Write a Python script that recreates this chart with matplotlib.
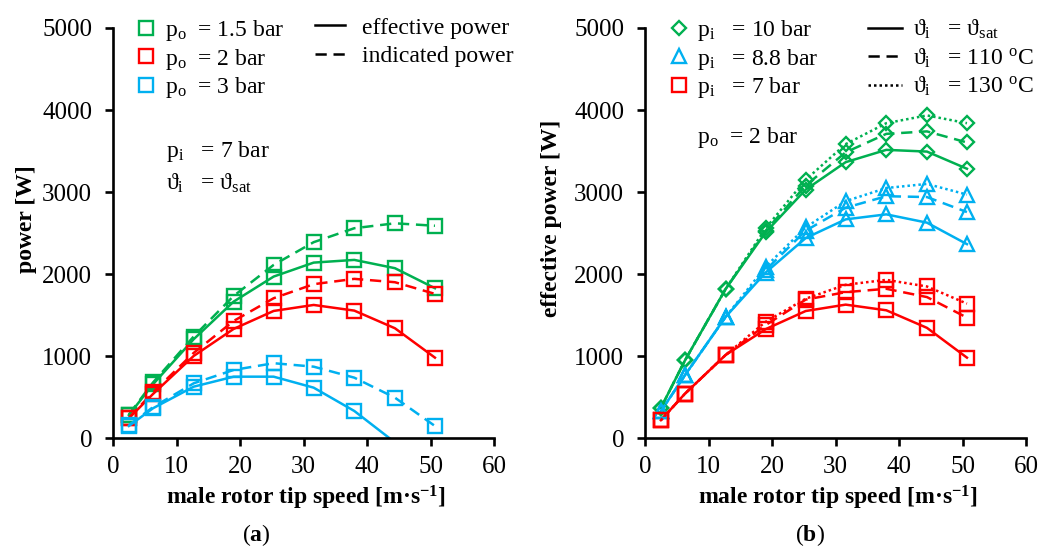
import matplotlib.pyplot as plt
from matplotlib.lines import Line2D

plt.rcParams['font.family'] = ['Liberation Serif', 'DejaVu Serif']
plt.rcParams['font.size'] = 17
plt.rcParams['mathtext.fontset'] = 'custom'
plt.rcParams['mathtext.rm'] = 'Liberation Serif'
plt.rcParams['mathtext.it'] = 'Liberation Serif:italic'
plt.rcParams['mathtext.bf'] = 'Liberation Serif:bold'

GREEN = '#00B050'
RED = '#FF0000'
CYAN = '#00B0F0'

# male rotor tip speed [m/s]
speed = [2.5, 6.3, 12.7, 19.0, 25.3, 31.6, 38.0, 44.4, 50.7]

# (a) p_i = 7 bar, saturated inlet, effective / indicated power [W]
eff_po15 = [284, 658, 1207, 1666, 1971, 2141, 2174, 2073, 1829]
ind_po15 = [290, 680, 1240, 1735, 2113, 2390, 2560, 2620, 2590]
eff_po2 = [244, 540, 1003, 1333, 1552, 1625, 1556, 1341, 983]
ind_po2 = [250, 560, 1040, 1430, 1707, 1878, 1943, 1902, 1760]
eff_po3 = [150, 366, 629, 751, 751, 617, 333, -50]
ind_po3 = [160, 380, 670, 833, 915, 873, 739, 495, 150]

# (b) p_o = 2 bar, effective power [W] for inlet temperature sat / 110 / 130 C
pi10_sat = [370, 950, 1820, 2510, 3030, 3365, 3515, 3494, 3285]
pi10_110 = [370, 950, 1820, 2530, 3080, 3485, 3710, 3740, 3605]
pi10_130 = [370, 950, 1820, 2560, 3150, 3585, 3840, 3935, 3840]
pi88_sat = [330, 770, 1480, 2020, 2440, 2668, 2729, 2628, 2366]
pi88_110 = [330, 770, 1480, 2050, 2530, 2810, 2950, 2940, 2757]
pi88_130 = [330, 770, 1480, 2090, 2570, 2890, 3050, 3100, 2970]
pi7_sat = [221, 544, 1016, 1330, 1551, 1629, 1560, 1346, 983]
pi7_110 = [221, 544, 1016, 1380, 1690, 1781, 1822, 1721, 1471]
pi7_130 = [221, 544, 1016, 1420, 1701, 1871, 1931, 1850, 1641]

LW = 1.8
MEW = 1.7
DASH = (0, (4.5, 2.7))
DOT = (0, (1, 1.2))
MS = {'s': 10, 'D': 7.2, '^': 10}


def fig_xy(x, y):
    return x / 1045, 1 - y / 549


def series(ax, y, color, marker, ls):
    n = len(y)
    keep = [i for i in range(n) if y[i] >= 0]
    ax.plot(speed[:n], y, color=color, ls=ls, lw=LW, marker=marker, ms=MS[marker],
            mfc='none', mew=MEW, markevery=keep)


def style_axes(ax, ylabel, ylabel_x):
    ax.set_xlim(0, 60)
    ax.set_ylim(0, 5000)
    ax.set_xticks(range(0, 61, 10))
    ax.set_yticks(range(0, 5001, 1000))
    for s in ('top', 'right'):
        ax.spines[s].set_visible(False)
    for s in ('left', 'bottom'):
        ax.spines[s].set_linewidth(1.9)
    ax.tick_params(direction='out', length=6, width=1.9, labelsize=18)
    ax.tick_params(axis='x', pad=7)
    ax.tick_params(axis='y', pad=9)
    ax.set_xlabel(r'male rotor tip speed [m·s$\mathbf{^{-1}}$]', fontweight='bold')
    ax.xaxis.set_label_coords(0.506, -0.11)
    ax.set_ylabel(ylabel, fontweight='bold')
    ax.yaxis.set_label_coords(ylabel_x, 0.535)


def marker_handle(color, marker):
    return Line2D([], [], color=color, marker=marker, ls='none', ms=MS[marker], mfc='none', mew=MEW)


def line_handle(ls):
    return Line2D([], [], color='black', lw=LW, ls=ls)


fig = plt.figure(figsize=(10.45, 5.49), dpi=100)
ax_a = fig.add_axes([113 / 1045, 110.7 / 549, 381 / 1045, 410.3 / 549])
ax_b = fig.add_axes([645 / 1045, 110.7 / 549, 381 / 1045, 410.3 / 549])

# panel (a)
series(ax_a, eff_po15, GREEN, 's', '-')
series(ax_a, ind_po15, GREEN, 's', DASH)
series(ax_a, eff_po2, RED, 's', '-')
series(ax_a, ind_po2, RED, 's', DASH)
series(ax_a, eff_po3, CYAN, 's', '-')
series(ax_a, ind_po3, CYAN, 's', DASH)
style_axes(ax_a, 'power [W]', -0.20)

leg = ax_a.legend([marker_handle(GREEN, 's'), marker_handle(RED, 's'), marker_handle(CYAN, 's')],
                  [r'$\mathrm{p_o}$  = 1.5 bar', r'$\mathrm{p_o}$  = 2 bar', r'$\mathrm{p_o}$  = 3 bar'],
                  loc='upper left', bbox_to_anchor=fig_xy(134, 18), bbox_transform=fig.transFigure,
                  frameon=False, borderpad=0, borderaxespad=0, handlelength=1.0,
                  handletextpad=0.3, labelspacing=0.15)
ax_a.add_artist(leg)
ax_a.legend([line_handle('-'), line_handle(DASH)], ['effective power', 'indicated power'],
            loc='upper left', bbox_to_anchor=fig_xy(315, 17), bbox_transform=fig.transFigure,
            frameon=False, borderpad=0, borderaxespad=0, handlelength=1.27,
            handletextpad=0.72, labelspacing=0.3)
ax_a.text(166 / 1045, 1 - 157 / 549, r'$\mathrm{p_i}$   = 7 bar', transform=fig.transFigure)
ax_a.text(166 / 1045, 1 - 190 / 549, r'$\mathrm{\vartheta_i}$   = $\mathrm{\vartheta_{sat}}$',
          transform=fig.transFigure)

# panel (b)
for vals, color, marker in ((pi10_sat, GREEN, 'D'), (pi88_sat, CYAN, '^'), (pi7_sat, RED, 's')):
    series(ax_b, vals, color, marker, '-')
for vals, color, marker in ((pi10_110, GREEN, 'D'), (pi88_110, CYAN, '^'), (pi7_110, RED, 's')):
    series(ax_b, vals, color, marker, DASH)
for vals, color, marker in ((pi10_130, GREEN, 'D'), (pi88_130, CYAN, '^'), (pi7_130, RED, 's')):
    series(ax_b, vals, color, marker, DOT)
style_axes(ax_b, 'effective power [W]', -0.218)

leg = ax_b.legend([marker_handle(GREEN, 'D'), marker_handle(CYAN, '^'), marker_handle(RED, 's')],
                  [r'$\mathrm{p_i}$   = 10 bar', r'$\mathrm{p_i}$   = 8.8 bar', r'$\mathrm{p_i}$   = 7 bar'],
                  loc='upper left', bbox_to_anchor=fig_xy(667, 18), bbox_transform=fig.transFigure,
                  frameon=False, borderpad=0, borderaxespad=0, handlelength=1.0,
                  handletextpad=0.25, labelspacing=0.15)
ax_b.add_artist(leg)
ax_b.legend([line_handle('-'), line_handle(DASH), line_handle(DOT)],
            [r'$\mathrm{\vartheta_i}$   = $\mathrm{\vartheta_{sat}}$',
             r'$\mathrm{\vartheta_i}$   = 110 $\mathrm{^oC}$',
             r'$\mathrm{\vartheta_i}$   = 130 $\mathrm{^oC}$'],
            loc='upper left', bbox_to_anchor=fig_xy(868, 18), bbox_transform=fig.transFigure,
            frameon=False, borderpad=0, borderaxespad=0, handlelength=1.43,
            handletextpad=0.47, labelspacing=0.22)
ax_b.text(697 / 1045, 1 - 143 / 549, r'$\mathrm{p_o}$  = 2 bar', transform=fig.transFigure)

fig.text(256 / 1045, 1 - 541 / 549, r'($\mathbf{a}$)', ha='center', va='baseline')
fig.text(810 / 1045, 1 - 541 / 549, r'($\mathbf{b}$)', ha='center', va='baseline')

fig.savefig('out.png', dpi=100)
